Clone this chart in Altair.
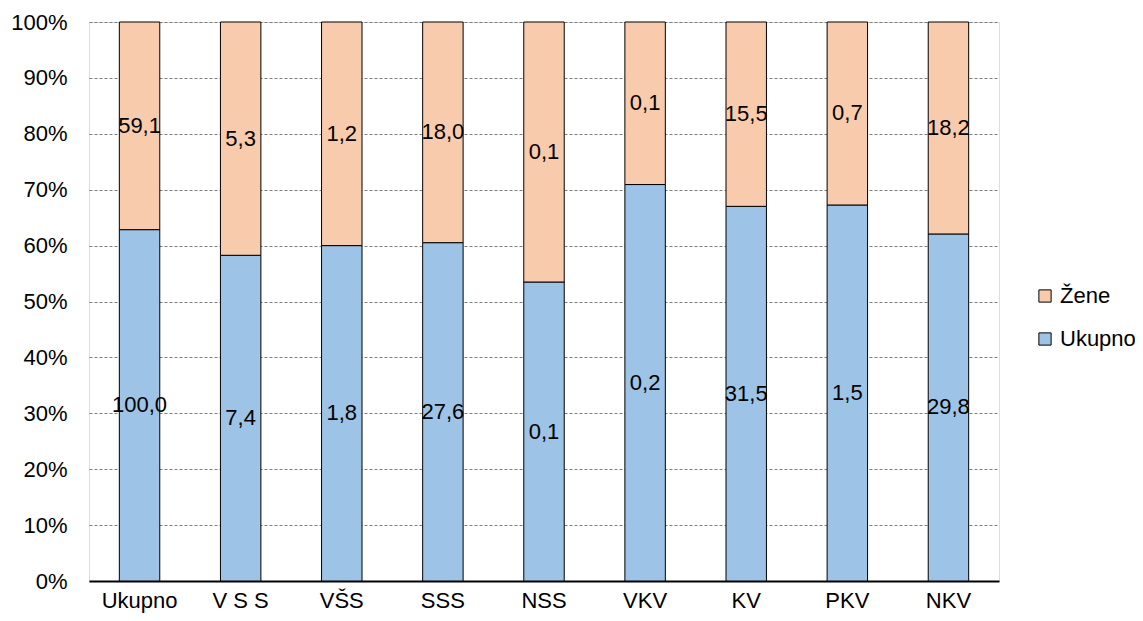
import altair as alt
import pandas as pd

categories = ["Ukupno", "V S S", "VŠS", "SSS", "NSS", "VKV", "KV", "PKV", "NKV"]
ukupno = [100.0, 7.4, 1.8, 27.6, 0.115, 0.2, 31.5, 1.5, 29.8]
zene = [59.1, 5.3, 1.2, 18.0, 0.1, 0.082, 15.5, 0.73, 18.2]
series = ["Ukupno", "Žene"]

rows = []
for c, u, z in zip(categories, ukupno, zene):
    rows.append({"cat": c, "serija": "Ukupno", "v": u, "ord": 0})
    rows.append({"cat": c, "serija": "Žene", "v": z, "ord": 1})
df = pd.DataFrame(rows)

FONT = "Liberation Sans"
FS = 22

base = alt.Chart(df).transform_stack(
    stack="v", groupby=["cat"], as_=["y0", "y1"], offset="normalize",
    sort=[alt.SortField("ord", order="ascending")]
).transform_calculate(
    mid="(datum.y0 + datum.y1) / 2",
    lbl="replace(format(datum.v, '.1f'), '.', ',')"
)

xenc = alt.X("cat:N", sort=categories, title=None,
             scale=alt.Scale(paddingInner=0.6, paddingOuter=0.3),
             axis=alt.Axis(labelAngle=0, labelFont=FONT, labelFontSize=FS,
                           labelColor="#000000", ticks=False, domainColor="#000000",
                           domainWidth=2, labelPadding=9, grid=False))

bars = base.mark_bar(stroke="#000000", strokeWidth=1).encode(
    x=xenc,
    y=alt.Y("y0:Q", title=None, scale=alt.Scale(domain=[0, 1], nice=False),
            axis=alt.Axis(format=".0%", values=[i / 10 for i in range(11)],
                          labelFont=FONT, labelFontSize=FS, labelColor="#000000",
                          ticks=False, domain=False, labelPadding=22,
                          grid=True, gridColor="#7f7f7f", gridDash=[3, 2],
                          gridWidth=1)),
    y2="y1:Q",
    color=alt.Color("serija:N",
                    scale=alt.Scale(domain=["Žene", "Ukupno"], range=["#F8CBAD", "#9DC3E6"]),
                    legend=alt.Legend(title=None, orient="none", legendX=945, legendY=263,
                                      symbolType="square", symbolSize=150,
                                      symbolStrokeColor="#000000", symbolStrokeWidth=1,
                                      labelFont=FONT, labelFontSize=FS, labelColor="#000000",
                                      rowPadding=21, labelOffset=4, padding=0)),
)

texts = base.mark_text(font=FONT, fontSize=FS, color="#000000",
                       align="center", baseline="middle").encode(
    x=alt.X("cat:N", sort=categories),
    y=alt.Y("mid:Q"),
    text="lbl:N",
)

chart = alt.layer(bars, texts).properties(
    width=910, height=559,
    autosize=alt.AutoSizeParams(type="none"),
    padding={"left": 81, "top": 14, "right": 136, "bottom": 32},
).configure_view(stroke=None).configure(background="white")

chart.save("out.html", embed_options={"renderer": "svg", "actions": False})
